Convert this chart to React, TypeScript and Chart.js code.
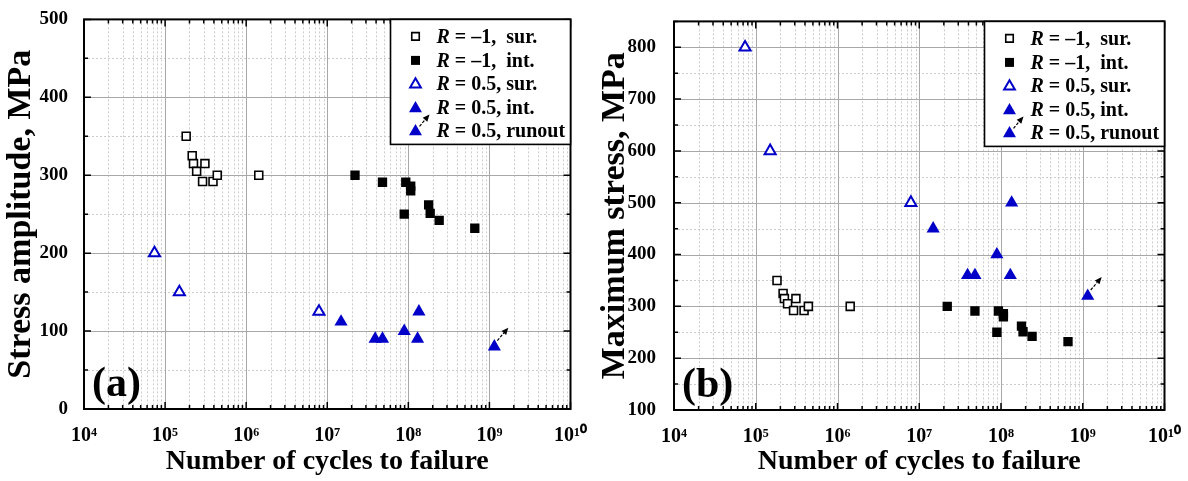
import React, { useEffect, useRef } from 'react';
import { Chart, registerables } from 'chart.js';
Chart.register(...registerables);

// ---------------- data ----------------
const cyclesSurM1 = [1.82e5, 2.16e5, 2.24e5, 2.45e5, 3.1e5, 2.9e5, 3.9e5, 4.4e5, 1.43e6];
const stressSurM1 = [350, 325, 315, 305, 315, 292, 292, 300, 300];
const cyclesIntM1 = [2.2e7, 4.8e7, 9.3e7, 1.07e8, 1.07e8, 8.9e7, 1.78e8, 1.86e8, 2.4e8, 6.6e8];
const stressIntM1 = [300, 291, 291, 286, 280, 250, 262, 251, 242, 232];
const cyclesSur05 = [7.4e4, 1.5e5, 7.9e6];
const ampSur05 = [200, 150, 125];
const maxSur05 = [800, 600, 500];
const cyclesInt05 = [1.48e7, 3.9e7, 4.8e7, 8.9e7, 1.3e8, 1.35e8];
const ampInt05 = [112, 90, 90, 100, 90, 125];
const maxInt05 = [450, 360, 360, 400, 360, 500];
const cyclesRun05 = [1.15e9];
const ampRun05 = [80];
const maxRun05 = [320];

const xDecades = [4, 5, 6, 7, 8, 9, 10];
const yTicksA = [0, 100, 200, 300, 400, 500];
const yTicksB = [100, 200, 300, 400, 500, 600, 700, 800];
const legendTexts = [' = \u20131,  sur.', ' = \u20131,  int.', ' = 0.5, sur.', ' = 0.5, int.', ' = 0.5, runout'];
const xTitle = 'Number of cycles to failure';
const yTitleA = 'Stress amplitude, MPa';
const yTitleB = 'Maximum stress, MPa';

const BLUE = '#0000c8';
const FONT = '"Liberation Serif", "Times New Roman", serif';
const SUP = ['\u2070', '\u00b9', '\u00b2', '\u00b3', '\u2074', '\u2075', '\u2076', '\u2077', '\u2078', '\u2079'];
const sup = (n: number) => String(n).split('').map((d) => SUP[+d]).join('');
const zip = (xs: number[], ys: number[]) => xs.map((x, i) => ({ x, y: ys[i] }));

type Marker = 'osq' | 'fsq' | 'otri' | 'ftri' | 'run';

function drawMarker(ctx: CanvasRenderingContext2D, kind: Marker, x: number, y: number) {
  ctx.save();
  ctx.setLineDash([]);
  if (kind === 'osq' || kind === 'fsq') {
    const s = kind === 'osq' ? 7.5 : 9;
    ctx.beginPath();
    ctx.rect(x - s / 2, y - s / 2, s, s);
    if (kind === 'fsq') { ctx.fillStyle = '#000'; ctx.fill(); }
    else { ctx.fillStyle = '#fff'; ctx.fill(); ctx.lineWidth = 1.6; ctx.strokeStyle = '#000'; ctx.stroke(); }
  } else {
    const r = kind === 'otri' ? 6.2 : 7.5;
    ctx.beginPath();
    for (let i = 0; i < 3; i++) {
      const a = (i * 2 * Math.PI) / 3;
      const px = x + Math.sin(a) * r, py = y - Math.cos(a) * r;
      if (i === 0) ctx.moveTo(px, py); else ctx.lineTo(px, py);
    }
    ctx.closePath();
    if (kind === 'otri') { ctx.fillStyle = '#fff'; ctx.fill(); ctx.lineWidth = 2; ctx.strokeStyle = BLUE; ctx.stroke(); }
    else { ctx.fillStyle = BLUE; ctx.fill(); }
  }
  ctx.restore();
}

function drawArrow(ctx: CanvasRenderingContext2D, x0: number, y0: number, x1: number, y1: number) {
  ctx.save();
  ctx.strokeStyle = '#000';
  ctx.fillStyle = '#000';
  ctx.lineWidth = 1.2;
  ctx.setLineDash([3, 1.5]);
  const ang = Math.atan2(y1 - y0, x1 - x0);
  const hl = 7, hw = 3;
  const bx = x1 - Math.cos(ang) * hl, by = y1 - Math.sin(ang) * hl;
  ctx.beginPath();
  ctx.moveTo(x0, y0);
  ctx.lineTo(bx, by);
  ctx.stroke();
  ctx.setLineDash([]);
  ctx.beginPath();
  ctx.moveTo(x1, y1);
  ctx.lineTo(bx + Math.sin(ang) * hw, by - Math.cos(ang) * hw);
  ctx.lineTo(bx - Math.sin(ang) * hw, by + Math.cos(ang) * hw);
  ctx.closePath();
  ctx.fill();
  ctx.restore();
}

type PanelCfg = {
  yMin: number; yMax: number; yStep: number; yTicks: number[]; yTitle: string; panel: string;
  ySur05: number[]; yInt05: number[]; yRun05: number[];
  yAxisWidth: number; xAxisHeight: number; padRight: number; padTop: number; yTickPad: number;
};

function makeDecor(cfg: PanelCfg) {
  return {
    id: 'decor',
    beforeDatasetsDraw(chart: any) {
      const { ctx, chartArea: a, scales } = chart;
      const x = scales.x, y = scales.y;
      ctx.save();
      ctx.lineWidth = 1;
      ctx.strokeStyle = '#cccccc';
      ctx.setLineDash([2, 2]);
      for (let e = 4; e <= 9; e++) {
        for (let k = 2; k <= 9; k++) {
          const px = Math.round(x.getPixelForValue(k * Math.pow(10, e))) + 0.5;
          ctx.beginPath(); ctx.moveTo(px, a.top); ctx.lineTo(px, a.bottom); ctx.stroke();
        }
      }
      for (let v = cfg.yMin + cfg.yStep / 2; v < cfg.yMax; v += cfg.yStep) {
        const py = Math.round(y.getPixelForValue(v)) + 0.5;
        ctx.beginPath(); ctx.moveTo(a.left, py); ctx.lineTo(a.right, py); ctx.stroke();
      }
      ctx.setLineDash([]);
      ctx.strokeStyle = '#a8a8a8';
      for (let e = 5; e <= 9; e++) {
        const px = Math.round(x.getPixelForValue(Math.pow(10, e))) + 0.5;
        ctx.beginPath(); ctx.moveTo(px, a.top); ctx.lineTo(px, a.bottom); ctx.stroke();
      }
      for (const v of cfg.yTicks) {
        if (v <= cfg.yMin || v >= cfg.yMax) continue;
        const py = Math.round(y.getPixelForValue(v)) + 0.5;
        ctx.beginPath(); ctx.moveTo(a.left, py); ctx.lineTo(a.right, py); ctx.stroke();
      }
      ctx.restore();
    },
    afterDatasetsDraw(chart: any) {
      const { ctx, chartArea: a, scales } = chart;
      const x = scales.x, y = scales.y;
      ctx.save();
      // frame
      ctx.strokeStyle = '#000';
      ctx.lineWidth = 2;
      ctx.strokeRect(a.left, a.top, a.right - a.left, a.bottom - a.top);
      // ticks (inside)
      ctx.lineWidth = 1.5;
      const tickX = (v: number, len: number) => {
        const px = x.getPixelForValue(v);
        ctx.beginPath();
        ctx.moveTo(px, a.bottom); ctx.lineTo(px, a.bottom - len);
        ctx.moveTo(px, a.top); ctx.lineTo(px, a.top + len);
        ctx.stroke();
      };
      for (let e = 4; e <= 10; e++) {
        tickX(Math.pow(10, e), 7);
        if (e < 10) for (let k = 2; k <= 9; k++) tickX(k * Math.pow(10, e), 4);
      }
      const tickY = (v: number, len: number) => {
        const py = y.getPixelForValue(v);
        ctx.beginPath();
        ctx.moveTo(a.left, py); ctx.lineTo(a.left + len, py);
        ctx.moveTo(a.right, py); ctx.lineTo(a.right - len, py);
        ctx.stroke();
      };
      for (const v of cfg.yTicks) tickY(v, 7);
      for (let v = cfg.yMin + cfg.yStep / 2; v <= cfg.yMax; v += cfg.yStep) tickY(v, 4);

      // runout arrow
      const meta = chart.getDatasetMeta(4);
      meta.data.forEach((p: any) => drawArrow(ctx, p.x + 3, p.y - 6, p.x + 14, p.y - 19));

      // legend
      const bw = 180, bh = 125;
      const bx = a.right - bw, by = a.top;
      ctx.fillStyle = '#fff';
      ctx.fillRect(bx, by, bw, bh);
      ctx.lineWidth = 1.6;
      ctx.strokeStyle = '#000';
      ctx.strokeRect(bx, by, bw, bh);
      const kinds: Marker[] = ['osq', 'fsq', 'otri', 'ftri', 'run'];
      const rows = [17, 41, 64, 88, 111];
      kinds.forEach((k, i) => {
        const my = by + rows[i];
        const mx = bx + 25;
        drawMarker(ctx, k, mx, my + (k === 'osq' || k === 'fsq' ? 0 : 1));
        if (k === 'run') drawArrow(ctx, mx + 4, my - 4, mx + 14, my - 16);
        ctx.fillStyle = '#000';
        ctx.textBaseline = 'middle';
        ctx.textAlign = 'left';
        ctx.font = `italic bold 20px ${FONT}`;
        const tx = bx + 46;
        ctx.fillText('R', tx, my + 1);
        const w = ctx.measureText('R').width;
        ctx.font = `bold 20px ${FONT}`;
        ctx.fillText(legendTexts[i], tx + w, my + 1);
      });

      // panel label
      ctx.fillStyle = '#000';
      ctx.font = `bold 42px ${FONT}`;
      ctx.textBaseline = 'alphabetic';
      ctx.textAlign = 'left';
      ctx.fillText(cfg.panel, a.left + 8, a.bottom - 13);
      ctx.restore();
    },
  };
}

function makeConfig(cfg: PanelCfg): any {
  return {
    type: 'scatter',
    data: {
      datasets: [
        { label: 'sur-1', data: zip(cyclesSurM1, stressSurM1), pointStyle: 'rect', pointRadius: 5.6, backgroundColor: '#fff', borderColor: '#000', borderWidth: 1.6 },
        { label: 'int-1', data: zip(cyclesIntM1, stressIntM1), pointStyle: 'rect', pointRadius: 6.6, backgroundColor: '#000', borderColor: '#000', borderWidth: 0 },
        { label: 'sur05', data: zip(cyclesSur05, cfg.ySur05), pointStyle: 'triangle', pointRadius: 6.4, backgroundColor: '#fff', borderColor: BLUE, borderWidth: 2 },
        { label: 'int05', data: zip(cyclesInt05, cfg.yInt05), pointStyle: 'triangle', pointRadius: 7.6, backgroundColor: BLUE, borderColor: BLUE, borderWidth: 0 },
        { label: 'run05', data: zip(cyclesRun05, cfg.yRun05), pointStyle: 'triangle', pointRadius: 7.6, backgroundColor: BLUE, borderColor: BLUE, borderWidth: 0 },
      ],
    },
    options: {
      animation: false,
      responsive: false,
      events: [],
      layout: { padding: { left: 0, top: cfg.padTop, right: cfg.padRight, bottom: 0 } },
      plugins: { legend: { display: false }, tooltip: { enabled: false } },
      scales: {
        x: {
          type: 'logarithmic',
          min: 1e4,
          max: 1e10,
          grid: { display: false },
          border: { display: false },
          afterBuildTicks: (s: any) => { s.ticks = xDecades.map((e) => ({ value: Math.pow(10, e) })); },
          afterFit: (s: any) => { s.height = cfg.xAxisHeight; },
          ticks: {
            autoSkip: false,
            maxRotation: 0,
            padding: 7,
            color: '#000',
            font: { family: FONT, size: 20, weight: 'bold' },
            callback: (v: any) => '10' + sup(Math.round(Math.log10(Number(v)))),
          },
          title: { display: true, text: xTitle, color: '#000', font: { family: FONT, size: 28, weight: 'bold', lineHeight: 1 }, padding: { top: 0, bottom: 5 } },
        },
        y: {
          type: 'linear',
          min: cfg.yMin,
          max: cfg.yMax,
          grid: { display: false },
          border: { display: false },
          afterBuildTicks: (s: any) => { s.ticks = cfg.yTicks.map((v) => ({ value: v })); },
          afterFit: (s: any) => { s.width = cfg.yAxisWidth; },
          ticks: {
            autoSkip: false,
            padding: cfg.yTickPad,
            color: '#000',
            font: { family: FONT, size: 19, weight: 'bold' },
            callback: (v: any) => String(v),
          },
          title: { display: true, text: cfg.yTitle, color: '#000', font: { family: FONT, size: 34, weight: 'bold', lineHeight: 1 }, padding: { top: 4, bottom: 0 } },
        },
      },
    },
    plugins: [makeDecor(cfg)],
  };
}

const cfgA: PanelCfg = {
  yMin: 0, yMax: 500, yStep: 100, yTicks: yTicksA, yTitle: yTitleA, panel: '(a)',
  ySur05: ampSur05, yInt05: ampInt05, yRun05: ampRun05,
  yAxisWidth: 84, xAxisHeight: 72, padRight: 22, padTop: 16, yTickPad: 8,
};
const cfgB: PanelCfg = {
  yMin: 100, yMax: 850, yStep: 100, yTicks: yTicksB, yTitle: yTitleB, panel: '(b)',
  ySur05: maxSur05, yInt05: maxInt05, yRun05: maxRun05,
  yAxisWidth: 80, xAxisHeight: 71, padRight: 22, padTop: 16, yTickPad: 10,
};

function Panel({ cfg }: { cfg: PanelCfg }) {
  const ref = useRef<HTMLCanvasElement>(null);
  useEffect(() => {
    if (!ref.current) return;
    const chart = new Chart(ref.current, makeConfig(cfg));
    return () => chart.destroy();
  }, [cfg]);
  return <canvas ref={ref} width={594} height={481} style={{ display: 'block', width: 594, height: 481 }} />;
}

export default function App() {
  return (
    <div style={{ position: 'fixed', left: 0, top: 0, width: 1188, height: 481, background: '#fff', display: 'flex' }}>
      <Panel cfg={cfgA} />
      <Panel cfg={cfgB} />
    </div>
  );
}
